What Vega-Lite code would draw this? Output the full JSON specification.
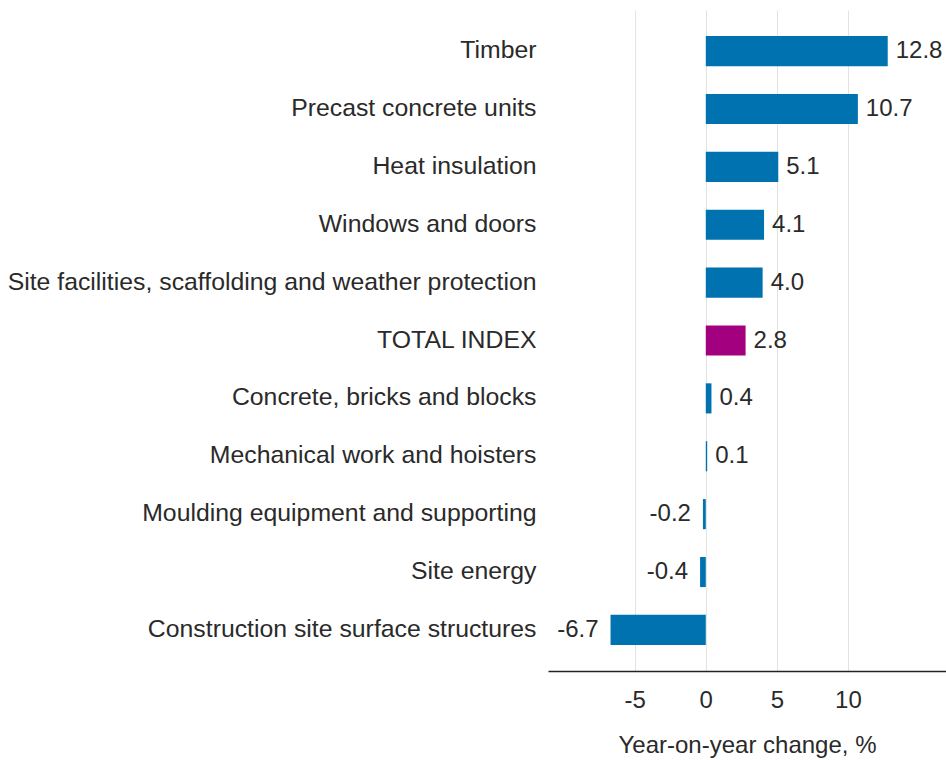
{
  "$schema": "https://vega.github.io/schema/vega-lite/v6.json",
  "autosize": {"type": "none"},
  "padding": {"left": 548, "top": 10, "right": 0, "bottom": 89},
  "width": 398,
  "height": 661,
  "background": "white",
  "config": {
    "view": {"stroke": null},
    "font": "Liberation Sans",
    "locale": {
      "number": {
        "decimal": ".",
        "thousands": ",",
        "grouping": [3],
        "currency": ["", ""],
        "minus": "-"
      }
    }
  },
  "data": {
    "values": [
      {"category": "Timber", "value": 12.8, "group": "item"},
      {"category": "Precast concrete units", "value": 10.7, "group": "item"},
      {"category": "Heat insulation", "value": 5.1, "group": "item"},
      {"category": "Windows and doors", "value": 4.1, "group": "item"},
      {"category": "Site facilities, scaffolding and weather protection", "value": 4.0, "group": "item"},
      {"category": "TOTAL INDEX", "value": 2.8, "group": "total"},
      {"category": "Concrete, bricks and blocks", "value": 0.4, "group": "item"},
      {"category": "Mechanical work and hoisters", "value": 0.1, "group": "item"},
      {"category": "Moulding equipment and supporting", "value": -0.2, "group": "item"},
      {"category": "Site energy", "value": -0.4, "group": "item"},
      {"category": "Construction site surface structures", "value": -6.7, "group": "item"}
    ]
  },
  "encoding": {
    "y": {
      "field": "category",
      "type": "nominal",
      "sort": null,
      "scale": {"paddingInner": 0.48, "paddingOuter": 0.45},
      "axis": {
        "title": null,
        "ticks": false,
        "domain": false,
        "labelFontSize": 24.8,
        "labelColor": "#2a2a2a",
        "labelPadding": 12,
        "labelLimit": 700
      }
    }
  },
  "layer": [
    {
      "mark": {"type": "bar"},
      "encoding": {
        "x": {
          "field": "value",
          "type": "quantitative",
          "scale": {"domain": [-11.1, 16.9], "nice": false, "zero": false},
          "axis": {
            "values": [-5, 0, 5, 10],
            "title": "Year-on-year change, %",
            "titleFontSize": 24,
            "titleFontWeight": "normal",
            "titleColor": "#2a2a2a",
            "titlePadding": 21,
            "labelFontSize": 24,
            "labelColor": "#2a2a2a",
            "labelPadding": 17,
            "ticks": false,
            "domainColor": "#222222",
            "domainWidth": 1.5,
            "grid": true,
            "gridColor": "#e3e3e3",
            "gridWidth": 1
          }
        },
        "x2": {"datum": 0},
        "color": {
          "field": "group",
          "type": "nominal",
          "scale": {"domain": ["item", "total"], "range": ["#0072b0", "#a3007f"]},
          "legend": null
        }
      }
    },
    {
      "mark": {"type": "rule", "color": "#333333", "strokeWidth": 2},
      "encoding": {"x": {"datum": 0}}
    },
    {
      "transform": [{"filter": "datum.value >= 0"}],
      "mark": {"type": "text", "align": "left", "baseline": "middle", "dx": 8, "fontSize": 24, "color": "#2a2a2a"},
      "encoding": {
        "x": {"field": "value", "type": "quantitative"},
        "text": {"field": "value", "type": "quantitative", "format": ".1f"}
      }
    },
    {
      "transform": [{"filter": "datum.value < 0"}],
      "mark": {"type": "text", "align": "right", "baseline": "middle", "dx": -12, "fontSize": 24, "color": "#2a2a2a"},
      "encoding": {
        "x": {"field": "value", "type": "quantitative"},
        "text": {"field": "value", "type": "quantitative", "format": ".1f"}
      }
    }
  ]
}
